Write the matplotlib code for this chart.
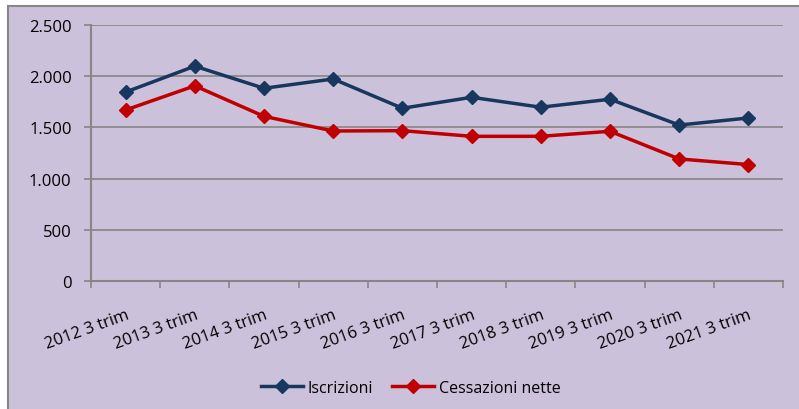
import numpy as np
import matplotlib.pyplot as plt
from matplotlib.patches import Rectangle
from matplotlib.ticker import FuncFormatter

categories = ["2012 3 trim", "2013 3 trim", "2014 3 trim", "2015 3 trim", "2016 3 trim",
              "2017 3 trim", "2018 3 trim", "2019 3 trim", "2020 3 trim", "2021 3 trim"]
iscrizioni = [1845, 2098, 1882, 1973, 1687, 1794, 1697, 1775, 1523, 1592]
cessazioni = [1670, 1906, 1608, 1465, 1468, 1413, 1413, 1462, 1192, 1137]

plt.rcParams['font.family'] = ['Open Sans', 'DejaVu Sans']

fig = plt.figure(figsize=(7.99, 4.10), dpi=100)
fig.patch.set_facecolor('white')

# lavender chart box, bottom and right edges fall outside the picture
fig.patches.append(Rectangle((8 / 799, -0.1), 1.1, 1.1 - 7 / 410, transform=fig.transFigure,
                             facecolor='#ccc1da', edgecolor='#868686', linewidth=1.5, zorder=-1))

ax = fig.add_axes([91 / 799, 1 - 282 / 410, (783 - 91) / 799, (282 - 26) / 410])
ax.patch.set_alpha(0)

x = np.arange(len(categories))
ax.plot(x, iscrizioni, color='#17375e', lw=2.5, marker='D', ms=7, label='Iscrizioni', zorder=3)
ax.plot(x, cessazioni, color='#c00000', lw=2.5, marker='D', ms=7, label='Cessazioni nette', zorder=3)

ax.set_xlim(-0.5, len(categories) - 0.5)
ax.set_ylim(0, 2500)
ax.set_yticks(np.arange(0, 2501, 500))
ax.yaxis.set_major_formatter(FuncFormatter(lambda v, p: f"{int(v):,}".replace(',', '.')))
ax.grid(axis='y', color='#868686', lw=1.2)
ax.set_axisbelow(True)

ax.set_xticks(x)
ax.set_xticklabels(categories, rotation=20, ha='right', va='top', rotation_mode='anchor')
ax.set_xticks(np.arange(-0.5, len(categories)), minor=True)
ax.tick_params(axis='x', which='major', length=0, pad=18, labelsize=12)
ax.tick_params(axis='x', which='minor', length=5, color='#868686', width=1.2, direction='out')
ax.tick_params(axis='y', length=5, color='#868686', width=1.2, labelsize=12, pad=9)

for s in ['top', 'right']:
    ax.spines[s].set_visible(False)
for s in ['left', 'bottom']:
    ax.spines[s].set_color('#868686')
    ax.spines[s].set_linewidth(1.5)

fig.legend(loc='center', bbox_to_anchor=(411 / 799, 1 - 389 / 410), ncol=2, frameon=False,
           fontsize=11.5, handlelength=2.6, columnspacing=1.2, handletextpad=0.3)

fig.savefig('out.png', dpi=100)
